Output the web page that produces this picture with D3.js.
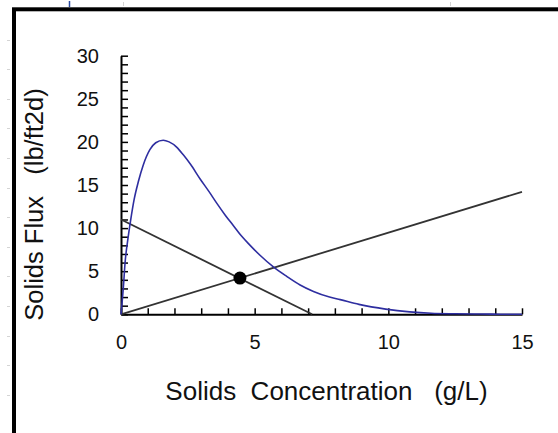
<!DOCTYPE html>
<html>
<head>
<meta charset="utf-8">
<script src="https://cdn.jsdelivr.net/npm/d3@7/dist/d3.min.js"></script>
<style>
  html, body { margin: 0; padding: 0; background: #fff; }
  svg { display: block; }
  text { font-family: Arial, "Liberation Sans", sans-serif; fill: #111; white-space: pre; }
</style>
</head>
<body>
<script>
// ---- data ----
const concentration = [0, 0.09, 0.15, 0.27, 0.36, 0.49, 0.65, 0.83, 1.08, 1.3, 1.58, 1.8, 2.08, 2.33, 2.6, 2.96, 3.3, 3.58, 3.9, 4.2, 4.5, 4.83, 5.2, 5.7, 6.2, 6.7, 7.2, 7.8, 8.2, 8.9, 9.9, 10.8, 11.6, 12.5, 13.4, 14.2, 15];
const gravityFlux   = [0, 3.2, 5.9, 9.0, 10.9, 13.3, 15.4, 17.3, 19.1, 19.9, 20.2, 20.0, 19.4, 18.5, 17.4, 15.7, 14.2, 12.9, 11.5, 10.3, 9.1, 8.0, 6.85, 5.5, 4.4, 3.4, 2.65, 2.0, 1.7, 1.15, 0.6, 0.28, 0.12, 0.06, 0.03, 0.01, 0];
const underflowLine = [[0, 11.0], [7.15, 0]];
const overflowLine  = [[0, 0], [15, 14.2]];
const operatingPoint = [4.45, 4.2];
const xMajorTicks = [0, 5, 10, 15];
const yMajorTicks = [0, 5, 10, 15, 20, 25, 30];
const xTitle = "Solids  Concentration   (g/L)";
const yTitle = "Solids Flux   (lb/ft2d)";

// ---- drawing ----
const W = 558, H = 433;
const svg = d3.select("body").append("svg").attr("width", W).attr("height", H);
svg.append("rect").attr("width", W).attr("height", H).attr("fill", "#fff");

// faint spreadsheet artefacts outside the frame
const deco = svg.append("g").attr("stroke", "#d4d4d4").attr("stroke-width", 1);
d3.range(39.5, 420, 29.6).forEach(yy => {
  deco.append("line").attr("x1", 7).attr("x2", 10).attr("y1", Math.round(yy) + 0.5).attr("y2", Math.round(yy) + 0.5);
});
deco.append("line").attr("x1", 123.5).attr("x2", 123.5).attr("y1", 2).attr("y2", 6);
deco.append("line").attr("x1", 450.5).attr("x2", 450.5).attr("y1", 2).attr("y2", 6);
svg.append("line").attr("x1", 69.5).attr("x2", 69.5).attr("y1", 1).attr("y2", 7)
  .attr("stroke", "#2a4aa0").attr("stroke-width", 1.5);

// outer frame (only left and top edges visible)
svg.append("rect").attr("x", 14).attr("y", 9.3).attr("width", 700).attr("height", 600)
  .attr("fill", "none").attr("stroke", "#000").attr("stroke-width", 4);

const x = d3.scaleLinear().domain([0, 15]).range([121, 522]);
const y = d3.scaleLinear().domain([0, 30]).range([314.3, 55.7]);

// x axis
const xAxis = d3.axisBottom(x)
  .tickValues(d3.range(0, 16))
  .tickSizeInner(-6).tickSizeOuter(0).tickPadding(21)
  .tickFormat(d => xMajorTicks.includes(d) ? String(d) : "");
const gx = svg.append("g").attr("transform", `translate(0,${y(0)})`).call(xAxis);
gx.select(".domain").attr("stroke", "#000").attr("stroke-width", 2);
gx.selectAll(".tick line").attr("stroke", "#000").attr("stroke-width", 1.5);
gx.selectAll(".tick text").attr("font-size", 20).attr("fill", "#111")
  .attr("font-family", "Arial, 'Liberation Sans', sans-serif");

// y axis
const yAxis = d3.axisLeft(y)
  .tickValues(d3.range(0, 31))
  .tickSizeInner(-7).tickSizeOuter(0).tickPadding(22)
  .tickFormat(d => yMajorTicks.includes(d) ? String(d) : "");
const gy = svg.append("g").attr("transform", `translate(${x(0)},0)`).call(yAxis);
gy.select(".domain").attr("stroke", "#000").attr("stroke-width", 2);
gy.selectAll(".tick line").attr("stroke", "#000").attr("stroke-width", 1.5);
gy.selectAll(".tick text").attr("font-size", 20).attr("fill", "#111")
  .attr("font-family", "Arial, 'Liberation Sans', sans-serif");

// lines
const line = d3.line().x(d => x(d[0])).y(d => y(d[1]));
svg.append("path").datum(underflowLine).attr("d", line)
  .attr("fill", "none").attr("stroke", "#333").attr("stroke-width", 1.8);
svg.append("path").datum(overflowLine).attr("d", line)
  .attr("fill", "none").attr("stroke", "#333").attr("stroke-width", 1.8);

// gravity flux curve
const curvePts = concentration.map((c, i) => [c, gravityFlux[i]]);
svg.append("path").datum(curvePts)
  .attr("d", d3.line().x(d => x(d[0])).y(d => y(d[1])).curve(d3.curveMonotoneX))
  .attr("fill", "none").attr("stroke", "#2e2ea0").attr("stroke-width", 1.6);

// operating point
svg.append("circle").attr("cx", x(operatingPoint[0])).attr("cy", y(operatingPoint[1]))
  .attr("r", 6.5).attr("fill", "#000");

// titles
svg.append("text").attr("x", 326.5).attr("y", 400).attr("text-anchor", "middle")
  .attr("font-size", 26).text(xTitle);
svg.append("text").attr("transform", "translate(43,204.5) rotate(-90)")
  .attr("text-anchor", "middle").attr("font-size", 25.5).text(yTitle);
</script>
</body>
</html>
